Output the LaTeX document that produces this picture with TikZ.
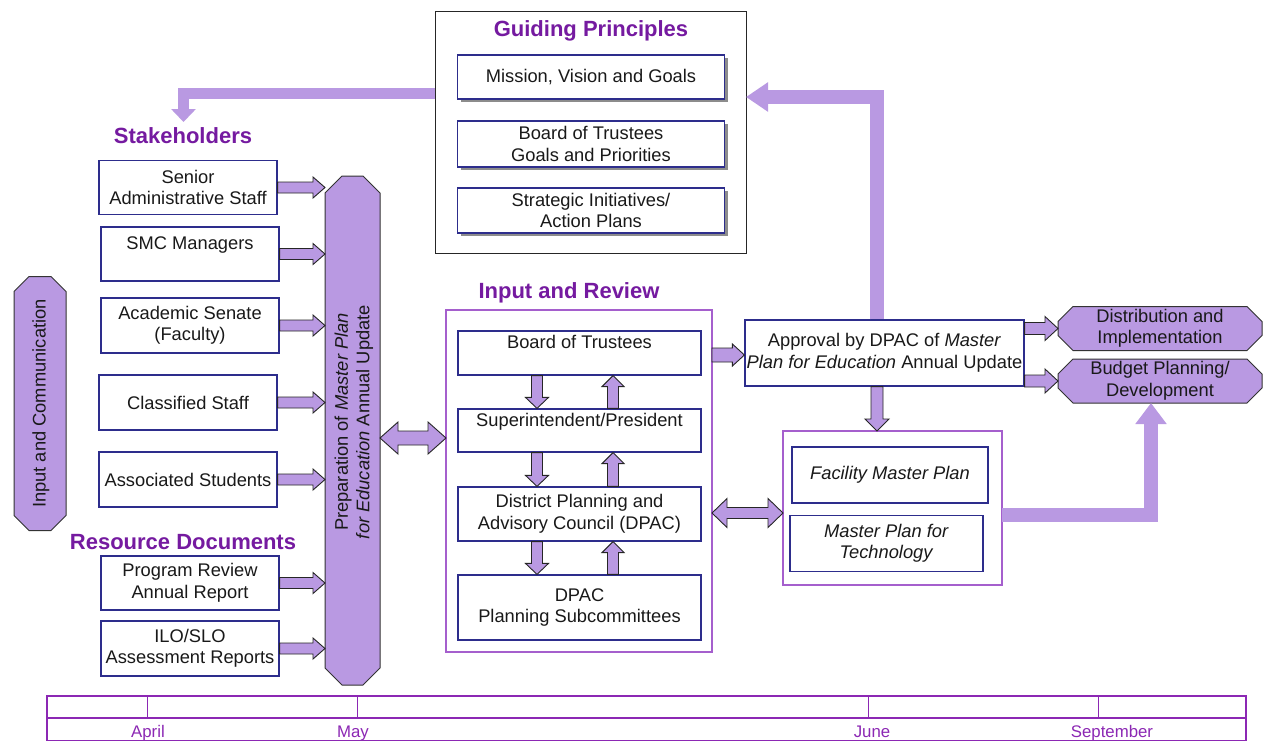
\documentclass[tikz,border=0pt]{standalone}
\usepackage{fontspec}
\setmainfont{Liberation Sans}
\usetikzlibrary{calc,shadows,arrows.meta}

\definecolor{lav}{RGB}{185,153,226}
\definecolor{ttl}{RGB}{117,26,160}
\definecolor{navy}{RGB}{45,45,140}
\definecolor{frm}{RGB}{165,95,205}
\definecolor{tl}{RGB}{140,40,180}

\tikzset{
  body/.style={font=\fontsize{18.3}{21.5}\selectfont, align=center, inner sep=1pt, text=black!90},
  box/.style={body, draw=navy, line width=1.2pt, fill=white},
  sbox/.style={box, drop shadow={shadow xshift=3pt, shadow yshift=-3pt, fill=black!45, opacity=1}},
  ghost/.style={draw=none, inner sep=0pt, outer sep=0pt},
  ttlstyle/.style={font=\fontsize{22}{26}\selectfont\bfseries, text=ttl, inner sep=2pt},
  framestyle/.style={draw=frm, line width=1.3pt, outer sep=0pt},
  octstyle/.style={fill=lav, draw=black!80, line width=1pt, line join=miter},
  barr/.style={fill=lav, draw=black!85, line width=0.9pt, line join=miter},
  fatarr/.style={draw=lav, line join=miter},
  month/.style={font=\fontsize{16.8}{19}\selectfont, text=tl, inner sep=0pt, anchor=base},
  tline/.style={draw=tl, line width=1.3pt},
}

% block arrow: [style]{from}{to}{half shaft}{half head}{head length}
\newcommand\blockarr[6][]{%
  \draw[barr,#1] let \p1=(#2), \p2=(#3), \p3=($(\p2)!#6!(\p1)$) in
   ($(\p1)!#4!90:(\p2)$) -- ($(\p3)!#4!90:(\p2)$) -- ($(\p3)!#5!90:(\p2)$) -- (\p2)
   -- ($(\p3)!#5!-90:(\p2)$) -- ($(\p3)!#4!-90:(\p2)$) -- ($(\p1)!#4!-90:(\p2)$) -- cycle;}
% double block arrow
\newcommand\dblarr[6][]{%
  \draw[barr,#1] let \p1=(#2), \p2=(#3), \p3=($(\p1)!#6!(\p2)$), \p4=($(\p2)!#6!(\p1)$) in
   (\p1) -- ($(\p3)!#5!90:(\p2)$) -- ($(\p3)!#4!90:(\p2)$) -- ($(\p4)!#4!90:(\p2)$)
   -- ($(\p4)!#5!90:(\p2)$) -- (\p2) -- ($(\p4)!#5!-90:(\p2)$) -- ($(\p4)!#4!-90:(\p2)$)
   -- ($(\p3)!#4!-90:(\p2)$) -- ($(\p3)!#5!-90:(\p2)$) -- cycle;}
% octagon on a ghost node
\newcommand\octagonon[2]{%
  \draw[octstyle] ([xshift=#2]#1.north west) -- ([xshift=-#2]#1.north east)
   -- ([yshift=-#2]#1.north east) -- ([yshift=#2]#1.south east)
   -- ([xshift=-#2]#1.south east) -- ([xshift=#2]#1.south west)
   -- ([yshift=#2]#1.south west) -- ([yshift=-#2]#1.north west) -- cycle;}

\begin{document}
\begin{tikzpicture}[x=1pt,y=-1pt]
\useasboundingbox (0,0) rectangle (1267,740);
\fill[white] (0,0) rectangle (1267,740);

% ---------- Guiding Principles ----------
\node[draw=black!85, line width=1pt, fill=white, minimum width=311pt, minimum height=242pt, outer sep=0pt] (guide) at (590.5,132) {};
\node[ttlstyle] (gtitle) at (591,31) {Guiding Principles};
\node[sbox, minimum width=267pt, minimum height=44pt] (mission) at (591,77) {Mission, Vision and Goals};
\node[sbox, minimum width=267pt, minimum height=46pt] (botg) at (591,144) {Board of Trustees\\Goals and Priorities};
\node[sbox, minimum width=267pt, minimum height=45pt] (strat) at (591,210.5) {Strategic Initiatives/\\Action Plans};

% ---------- Stakeholders ----------
\node[ttlstyle] (stk) at (183,136) {Stakeholders};
\node[ttlstyle] (res) at (183,542) {Resource Documents};
\node[box, minimum width=178pt, minimum height=54pt] (senior) at (188,187.5) {Senior\\Administrative Staff};
\node[box, minimum width=178pt, minimum height=54pt] (smc) at (190,254) {SMC Managers\\~};
\node[box, minimum width=178pt, minimum height=55pt] (acad) at (190,325.5) {Academic Senate\\(Faculty)};
\node[box, minimum width=178pt, minimum height=55pt] (class) at (188,402.5) {Classified Staff};
\node[box, minimum width=178pt, minimum height=55pt] (assoc) at (188,479.5) {Associated Students};
\node[box, minimum width=178pt, minimum height=54pt] (prog) at (190,583) {Program Review\\Annual Report};
\node[box, minimum width=178pt, minimum height=55pt] (ilo) at (190,648.5) {ILO/SLO\\Assessment Reports};

% ---------- Octagons ----------
\node[ghost, minimum width=52pt, minimum height=254pt] (inc) at (40,403.5) {};
\octagonon{inc}{15pt}
\node[body, rotate=90] (inctext) at (41,403.5) {Input and Communication};

\node[ghost, minimum width=55pt, minimum height=509pt] (prep) at (352.5,430.5) {};
\octagonon{prep}{17pt}
\node[body, rotate=90] (preptext) at (354,422) {Preparation of \textit{Master Plan}\\\textit{for Education} Annual Update};

% stakeholder arrows
\foreach \b in {senior,smc,acad,class,assoc,prog,ilo}{
  \blockarr{\b.east}{\b.east -| prep.west}{5.5pt}{10.5pt}{12pt}
}

% ---------- Input and Review ----------
\node[ttlstyle] (irt) at (569,293) {Input and Review};
\node[framestyle, minimum width=266pt, minimum height=342pt] (irf) at (579,481) {};
\node[box, minimum width=243pt, minimum height=44pt] (bot) at (579.5,353) {Board of Trustees\\~};
\node[box, minimum width=243pt, minimum height=43pt] (sup) at (579.5,430.5) {Superintendent/President\\~};
\node[box, minimum width=243pt, minimum height=54pt] (dpac) at (579.5,514) {District Planning and\\Advisory Council (DPAC)};
\node[box, minimum width=243pt, minimum height=65pt] (sub) at (579.5,607.5) {DPAC\\Planning Subcommittees};

\coordinate (dx) at (537,0);
\coordinate (ux) at (613,0);
\blockarr{dx |- bot.south}{dx |- sup.north}{5.5pt}{11.5pt}{11pt}
\blockarr{ux |- sup.north}{ux |- bot.south}{5.5pt}{11pt}{11pt}
\blockarr{dx |- sup.south}{dx |- dpac.north}{5.5pt}{11.5pt}{11pt}
\blockarr{ux |- dpac.north}{ux |- sup.south}{5.5pt}{11pt}{11pt}
\blockarr{dx |- dpac.south}{dx |- sub.north}{5.5pt}{11.5pt}{11pt}
\blockarr{ux |- sub.north}{ux |- dpac.south}{5.5pt}{11pt}{11pt}

% ---------- Approval, outputs ----------
\node[box, minimum width=279pt, minimum height=66pt] (appr) at (884.5,353) {Approval by DPAC of \textit{Master}\\\textit{Plan for Education} Annual Update};
\node[ghost, minimum width=204pt, minimum height=44pt] (dist) at (1160,328.5) {};
\octagonon{dist}{15pt}
\node[body] (disttext) at (dist.center) {Distribution and\\Implementation};
\node[ghost, minimum width=204pt, minimum height=44pt] (budg) at (1160,381) {};
\octagonon{budg}{15pt}
\node[body] (budgtext) at (budg.center) {Budget Planning/\\Development};

\node[framestyle, minimum width=219pt, minimum height=154pt] (ff) at (892.5,508) {};
\node[box, minimum width=196pt, minimum height=56pt] (fac) at (890,475) {\textit{Facility Master Plan}};
\node[box, minimum width=193pt, minimum height=56pt] (tech) at (886.5,543.5) {\textit{Master Plan for}\\\textit{Technology}};

% connectors
\coordinate (y438) at (0,438);
\coordinate (y513) at (0,513);
\coordinate (y355) at (0,355);
\coordinate (x877) at (877,0);
\dblarr{prep.east |- y438}{irf.west |- y438}{7pt}{16pt}{18pt}
\dblarr{irf.east |- y513}{ff.west |- y513}{5.5pt}{14.5pt}{15pt}
\blockarr{irf.east |- y355}{appr.west |- y355}{7pt}{11pt}{12pt}
\blockarr{x877 |- appr.south}{x877 |- ff.north}{6pt}{12pt}{12pt}
\blockarr{appr.east |- dist.west}{dist.west}{6pt}{12pt}{13pt}
\blockarr{appr.east |- budg.west}{budg.west}{6pt}{12pt}{13pt}

% fat arrows
\coordinate (k1) at (877,97);
\draw[fatarr, line width=14pt, -{Triangle[length=22pt,width=28pt]}] (k1 |- appr.north) -- (k1) -- (k1 -| guide.east);
\coordinate (k2) at (183.5,93.5);
\draw[fatarr, line width=11pt, -{Triangle[length=13pt,width=24pt]}] (k2 -| guide.west) -- (k2) -- (183.5,122);
\coordinate (k3) at (1151,514.5);
\draw[fatarr, line width=14pt, -{Triangle[length=21pt,width=30pt]}] (ff.east |- k3) -- (k3) -- (k3 |- budg.south);

% ---------- Timeline ----------
\draw[tline] (47,696) rectangle (1246,741);
\draw[tline] (47,718) -- (1246,718);
\foreach \xx in {147,357,868,1098}{\draw[tline, line width=1pt] (\xx,696) -- (\xx,718);}
\node[month] (apr) at (148,737) {April};
\node[month] (may) at (353,737) {May};
\node[month] (jun) at (872,737) {June};
\node[month] (sep) at (1112,737) {September};
\end{tikzpicture}
\end{document}
